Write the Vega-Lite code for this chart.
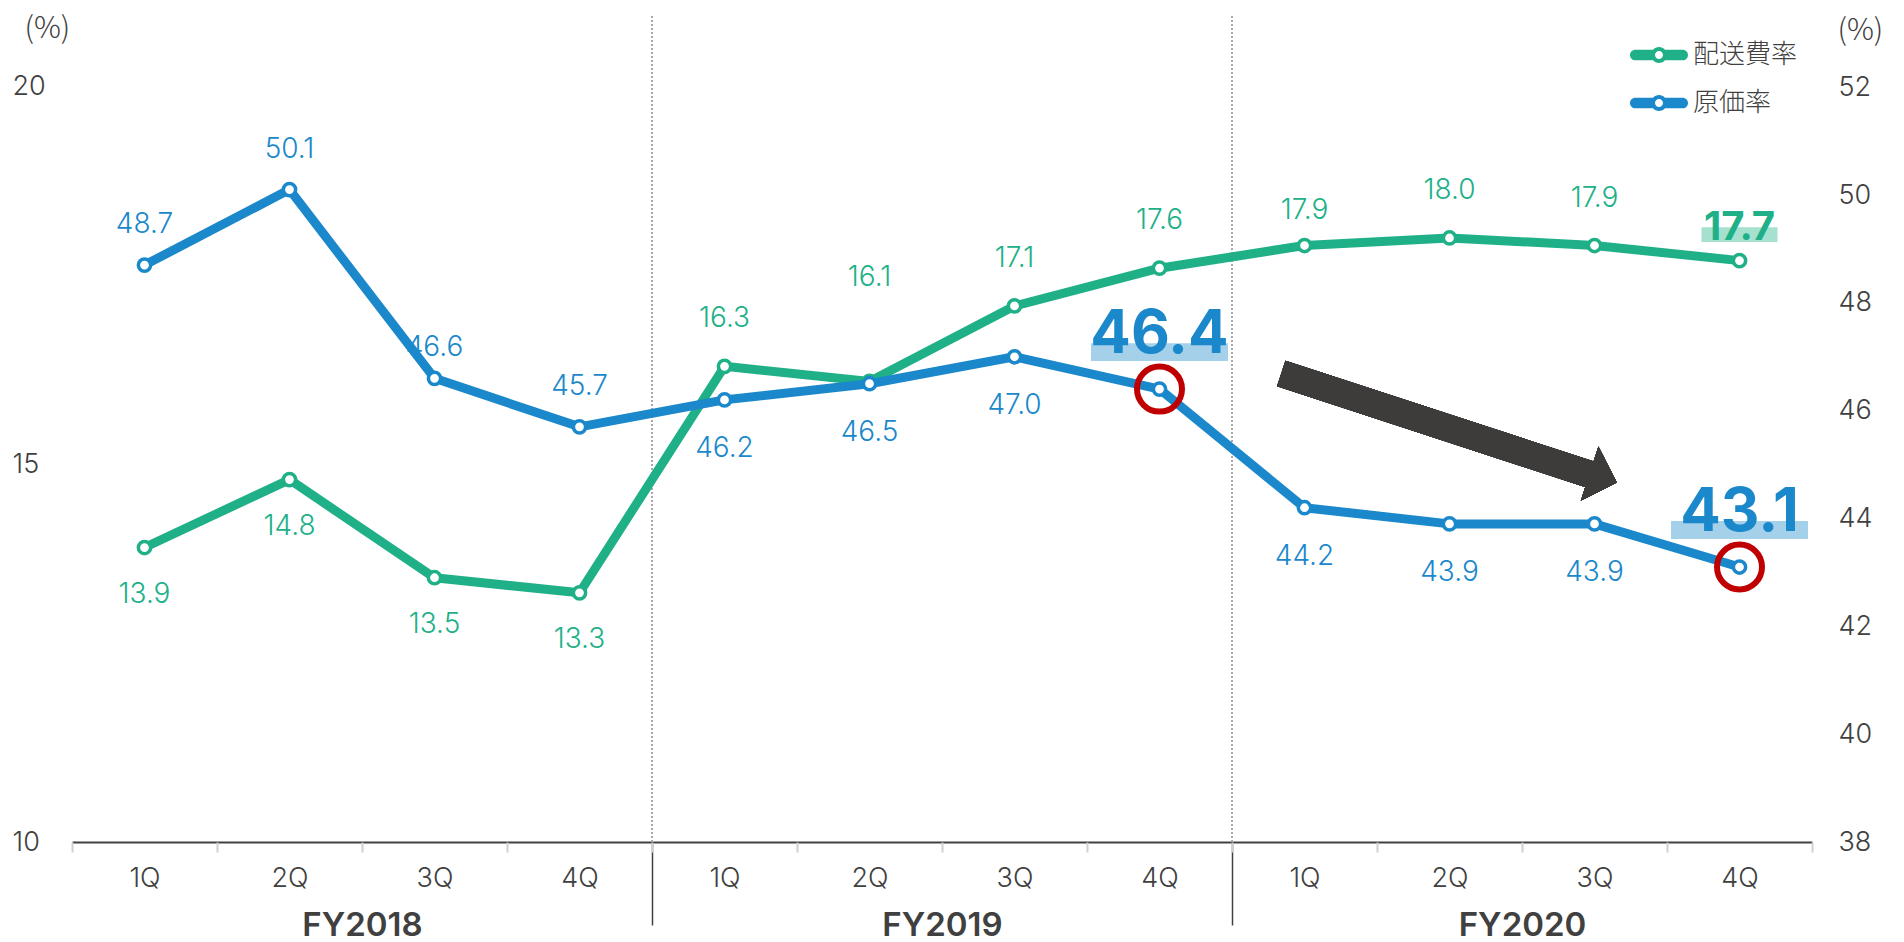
{
  "$schema": "https://vega.github.io/schema/vega-lite/v6.json",
  "width": 1740,
  "height": 826,
  "autosize": {"type": "none"},
  "padding": {"left": 72, "top": 16, "right": 92, "bottom": 100},
  "background": "white",
  "config": {
    "view": {"stroke": null},
    "font": "Inter",
    "axis": {"grid": false, "labelFlush": false}
  },
  "datasets": {
    "rates": [
      {"year": "FY2018", "q": "1Q", "idx": 0, "delivery": 13.9, "cost": 48.7},
      {"year": "FY2018", "q": "2Q", "idx": 1, "delivery": 14.8, "cost": 50.1},
      {"year": "FY2018", "q": "3Q", "idx": 2, "delivery": 13.5, "cost": 46.6},
      {"year": "FY2018", "q": "4Q", "idx": 3, "delivery": 13.3, "cost": 45.7},
      {"year": "FY2019", "q": "1Q", "idx": 4, "delivery": 16.3, "cost": 46.2},
      {"year": "FY2019", "q": "2Q", "idx": 5, "delivery": 16.1, "cost": 46.5},
      {"year": "FY2019", "q": "3Q", "idx": 6, "delivery": 17.1, "cost": 47.0},
      {"year": "FY2019", "q": "4Q", "idx": 7, "delivery": 17.6, "cost": 46.4},
      {"year": "FY2020", "q": "1Q", "idx": 8, "delivery": 17.9, "cost": 44.2},
      {"year": "FY2020", "q": "2Q", "idx": 9, "delivery": 18.0, "cost": 43.9},
      {"year": "FY2020", "q": "3Q", "idx": 10, "delivery": 17.9, "cost": 43.9},
      {"year": "FY2020", "q": "4Q", "idx": 11, "delivery": 17.7, "cost": 43.1}
    ]
  },
  "data": {"name": "rates"},
  "resolve": {"scale": {"y": "independent"}, "axis": {"x": "independent"}},
  "layer": [
    {
      "mark": {"type": "rule", "color": "#a8a8a8", "strokeWidth": 1.5, "strokeDash": [2, 2]},
      "encoding": {
        "x": {
          "datum": 3.5, "type": "quantitative",
          "scale": {"domain": [-0.5, 11.5], "nice": false, "zero": false},
          "axis": {
            "orient": "bottom", "title": null,
            "values": [1.5, 3.5, 5.5, 7.5, 9.5],
            "domain": false, "ticks": true, "tickSize": 83, "tickWidth": 1.5,
            "tickColor": {"condition": {"test": "datum.value === 3.5 || datum.value === 7.5", "value": "#404040"}, "value": "transparent"},
            "labelExpr": "datum.value === 1.5 ? 'FY2018' : datum.value === 5.5 ? 'FY2019' : datum.value === 9.5 ? 'FY2020' : ''",
            "labelPadding": 0, "labelBaseline": "middle", "labelFontSize": 33, "labelFontWeight": 600,
            "labelColor": "#404040", "labelFont": "Inter"
          }
        }
      }
    },
    {
      "mark": {"type": "rule", "color": "#a8a8a8", "strokeWidth": 1.5, "strokeDash": [2, 2]},
      "encoding": {
        "x": {"datum": 7.5, "type": "quantitative", "axis": null}
      }
    },
    {
      "mark": {"type": "rule", "color": "#3d3c3b", "strokeWidth": 27, "strokeCap": "butt"},
      "encoding": {
        "x": {"datum": 7.84, "type": "quantitative", "axis": null},
        "x2": {"datum": 10.0},
        "y": {"datum": 46.69, "type": "quantitative", "scale": {"domain": [38, 53.32], "nice": false, "zero": false}, "axis": null},
        "y2": {"datum": 44.79}
      }
    },
    {
      "mark": {"type": "point", "filled": true, "color": "#3d3c3b", "opacity": 1, "shape": "M -0.5 -1 L 0.5 0 L -0.5 1 Z", "size": 3249, "angle": 18, "strokeWidth": 0},
      "encoding": {
        "x": {"datum": 10.06, "type": "quantitative", "axis": null},
        "y": {"datum": 44.75, "type": "quantitative", "scale": {"domain": [38, 53.32], "nice": false, "zero": false}, "axis": null}
      }
    },
    {
      "mark": {"type": "line", "strokeWidth": 9, "strokeJoin": "round", "color": "#20b088"},
      "encoding": {
        "x": {
          "field": "idx", "type": "quantitative",
          "axis": {
            "orient": "bottom", "title": null,
            "values": [0, 1, 2, 3, 4, 5, 6, 7, 8, 9, 10, 11],
            "labelExpr": "['1Q','2Q','3Q','4Q'][datum.value % 4]",
            "ticks": false, "domain": true, "domainColor": "#404040", "domainWidth": 2,
            "labelPadding": 36, "labelBaseline": "middle", "labelFontSize": 27, "labelFontWeight": 300,
            "labelColor": "#404040", "labelFont": "Inter"
          }
        },
        "y": {
          "field": "delivery", "type": "quantitative",
          "scale": {"domain": [10, 20.94], "nice": false, "zero": false},
          "axis": {
            "orient": "left", "values": [10, 15, 20], "ticks": false, "domain": false,
            "labelAlign": "left", "labelPadding": 60, "labelFontSize": 27, "labelFontWeight": 300, "labelColor": "#404040",
            "labelFont": "Inter", "labelBaseline": "middle",
            "title": "(%)", "titleAngle": 0, "titleX": -48, "titleY": 12, "titleAlign": "left",
            "titleBaseline": "middle", "titleFontSize": 30, "titleFontWeight": 300,
            "titleColor": "#404040", "titleFont": "Noto Sans CJK JP"
          }
        },
        "color": {
          "datum": "配送費率", "type": "nominal",
          "scale": {"domain": ["配送費率", "原価率"], "range": ["#20b088", "#1a88cb"]},
          "legend": {
            "orient": "none", "legendX": 1558, "legendY": 10, "title": null, "padding": 0,
            "symbolType": "M -0.816 -0.184 L -0.206 -0.184 A 0.276 0.276 0 0 1 0.206 -0.184 L 0.816 -0.184 A 0.184 0.184 0 0 1 0.816 0.184 L 0.206 0.184 A 0.276 0.276 0 0 1 -0.206 0.184 L -0.816 0.184 A 0.184 0.184 0 0 1 -0.816 -0.184 Z M 0.138 0 A 0.138 0.138 0 1 0 -0.138 0 A 0.138 0.138 0 1 0 0.138 0 Z",
            "symbolSize": 3364, "symbolStrokeWidth": 0,
            "labelFont": "Noto Sans CJK JP", "labelFontSize": 26, "labelFontWeight": 300, "labelColor": "#404040",
            "labelOffset": 5, "rowPadding": 6,
            "encode": {"symbols": {"update": {"fill": {"scale": "color", "field": "value"}, "stroke": {"value": "transparent"}, "opacity": {"value": 1}}}}
          }
        }
      }
    },
    {
      "mark": {"type": "point", "filled": true, "fill": "white", "stroke": "#20b088", "strokeWidth": 3.5, "size": 150, "opacity": 1},
      "encoding": {
        "x": {"field": "idx", "type": "quantitative", "axis": null},
        "y": {"field": "delivery", "type": "quantitative", "scale": {"domain": [10, 20.94], "nice": false, "zero": false}, "axis": null}
      }
    },
    {
      "transform": [{"filter": "datum.year === 'FY2018'"}],
      "mark": {"type": "text", "color": "#20b088", "fontSize": 28, "fontWeight": 300, "baseline": "middle", "dy": 47},
      "encoding": {
        "x": {"field": "idx", "type": "quantitative", "axis": null},
        "y": {"field": "delivery", "type": "quantitative", "scale": {"domain": [10, 20.94], "nice": false, "zero": false}, "axis": null},
        "text": {"field": "delivery", "type": "quantitative", "format": ".1f"}
      }
    },
    {
      "transform": [{"filter": "datum.year !== 'FY2018' && !(datum.year === 'FY2019' && datum.q === '2Q') && !(datum.year === 'FY2020' && (datum.q === '4Q' || datum.q === '1Q'))"}],
      "mark": {"type": "text", "color": "#20b088", "fontSize": 28, "fontWeight": 300, "baseline": "middle", "dy": -47},
      "encoding": {
        "x": {"field": "idx", "type": "quantitative", "axis": null},
        "y": {"field": "delivery", "type": "quantitative", "scale": {"domain": [10, 20.94], "nice": false, "zero": false}, "axis": null},
        "text": {"field": "delivery", "type": "quantitative", "format": ".1f"}
      }
    },
    {
      "transform": [{"filter": "datum.year === 'FY2020' && datum.q === '1Q'"}],
      "mark": {"type": "text", "color": "#20b088", "fontSize": 28, "fontWeight": 300, "baseline": "middle", "dy": -35},
      "encoding": {
        "x": {"field": "idx", "type": "quantitative", "axis": null},
        "y": {"field": "delivery", "type": "quantitative", "scale": {"domain": [10, 20.94], "nice": false, "zero": false}, "axis": null},
        "text": {"field": "delivery", "type": "quantitative", "format": ".1f"}
      }
    },
    {
      "transform": [{"filter": "datum.year === 'FY2019' && datum.q === '2Q'"}],
      "mark": {"type": "text", "color": "#20b088", "fontSize": 28, "fontWeight": 300, "baseline": "middle", "dy": -103},
      "encoding": {
        "x": {"field": "idx", "type": "quantitative", "axis": null},
        "y": {"field": "delivery", "type": "quantitative", "scale": {"domain": [10, 20.94], "nice": false, "zero": false}, "axis": null},
        "text": {"field": "delivery", "type": "quantitative", "format": ".1f"}
      }
    },
    {
      "transform": [{"filter": "datum.year === 'FY2020' && datum.q === '4Q'"}],
      "mark": {"type": "point", "filled": true, "fill": "#a6e0cf", "opacity": 1, "strokeWidth": 0, "shape": "M -1 -0.197 L 1 -0.197 L 1 0.197 L -1 0.197 Z", "size": 5776, "yOffset": -26},
      "encoding": {
        "x": {"field": "idx", "type": "quantitative", "axis": null},
        "y": {"field": "delivery", "type": "quantitative", "scale": {"domain": [10, 20.94], "nice": false, "zero": false}, "axis": null}
      }
    },
    {
      "transform": [{"filter": "datum.year === 'FY2020' && datum.q === '4Q'"}],
      "mark": {"type": "text", "color": "#20b088", "fontSize": 40, "fontWeight": "bold", "baseline": "alphabetic", "dy": -21},
      "encoding": {
        "x": {"field": "idx", "type": "quantitative", "axis": null},
        "y": {"field": "delivery", "type": "quantitative", "scale": {"domain": [10, 20.94], "nice": false, "zero": false}, "axis": null},
        "text": {"field": "delivery", "type": "quantitative", "format": ".1f"}
      }
    },
    {
      "mark": {"type": "line", "strokeWidth": 9, "strokeJoin": "round", "color": "#1a88cb"},
      "encoding": {
        "x": {
          "field": "idx", "type": "quantitative",
          "axis": {
            "orient": "bottom", "title": null,
            "values": [-0.5, 0.5, 1.5, 2.5, 3.5, 4.5, 5.5, 6.5, 7.5, 8.5, 9.5, 10.5, 11.5],
            "labels": false, "domain": false, "ticks": true, "tickSize": 10, "tickWidth": 2, "tickColor": "#d0d0d0"
          }
        },
        "y": {
          "field": "cost", "type": "quantitative",
          "scale": {"domain": [38, 53.32], "nice": false, "zero": false},
          "axis": {
            "orient": "right", "values": [38, 40, 42, 44, 46, 48, 50, 52], "ticks": false, "domain": false,
            "labelAlign": "left", "labelPadding": 26, "labelFontSize": 27, "labelFontWeight": 300, "labelColor": "#404040",
            "labelFont": "Inter", "labelBaseline": "middle",
            "title": "(%)", "titleAngle": 0, "titleX": 25, "titleY": 14, "titleAlign": "left",
            "titleBaseline": "middle", "titleFontSize": 30, "titleFontWeight": 300,
            "titleColor": "#404040", "titleFont": "Noto Sans CJK JP"
          }
        },
        "color": {"datum": "原価率", "type": "nominal"}
      }
    },
    {
      "transform": [{"filter": "datum.q === '4Q' && datum.year !== 'FY2018'"}],
      "mark": {"type": "point", "filled": false, "stroke": "#c00000", "strokeWidth": 6, "size": 2025, "opacity": 1},
      "encoding": {
        "x": {"field": "idx", "type": "quantitative", "axis": null},
        "y": {"field": "cost", "type": "quantitative", "scale": {"domain": [38, 53.32], "nice": false, "zero": false}, "axis": null}
      }
    },
    {
      "mark": {"type": "point", "filled": true, "fill": "white", "stroke": "#1a88cb", "strokeWidth": 3.5, "size": 150, "opacity": 1},
      "encoding": {
        "x": {"field": "idx", "type": "quantitative", "axis": null},
        "y": {"field": "cost", "type": "quantitative", "scale": {"domain": [38, 53.32], "nice": false, "zero": false}, "axis": null}
      }
    },
    {
      "transform": [{"filter": "datum.year === 'FY2018' && datum.q !== '3Q'"}],
      "mark": {"type": "text", "color": "#1a88cb", "fontSize": 28, "fontWeight": 300, "baseline": "middle", "dy": -40},
      "encoding": {
        "x": {"field": "idx", "type": "quantitative", "axis": null},
        "y": {"field": "cost", "type": "quantitative", "scale": {"domain": [38, 53.32], "nice": false, "zero": false}, "axis": null},
        "text": {"field": "cost", "type": "quantitative", "format": ".1f"}
      }
    },
    {
      "transform": [{"filter": "datum.year === 'FY2018' && datum.q === '3Q'"}],
      "mark": {"type": "text", "color": "#1a88cb", "fontSize": 28, "fontWeight": 300, "baseline": "middle", "dy": -30},
      "encoding": {
        "x": {"field": "idx", "type": "quantitative", "axis": null},
        "y": {"field": "cost", "type": "quantitative", "scale": {"domain": [38, 53.32], "nice": false, "zero": false}, "axis": null},
        "text": {"field": "cost", "type": "quantitative", "format": ".1f"}
      }
    },
    {
      "transform": [{"filter": "datum.year !== 'FY2018' && datum.q !== '4Q'"}],
      "mark": {"type": "text", "color": "#1a88cb", "fontSize": 28, "fontWeight": 300, "baseline": "middle", "dy": 49},
      "encoding": {
        "x": {"field": "idx", "type": "quantitative", "axis": null},
        "y": {"field": "cost", "type": "quantitative", "scale": {"domain": [38, 53.32], "nice": false, "zero": false}, "axis": null},
        "text": {"field": "cost", "type": "quantitative", "format": ".1f"}
      }
    },
    {
      "transform": [{"filter": "datum.year !== 'FY2018' && datum.q === '4Q'"}],
      "mark": {"type": "point", "filled": true, "fill": "#a4d0ea", "opacity": 1, "strokeWidth": 0, "shape": "M -1 -0.131 L 1 -0.131 L 1 0.131 L -1 0.131 Z", "size": 18769, "yOffset": -37},
      "encoding": {
        "x": {"field": "idx", "type": "quantitative", "axis": null},
        "y": {"field": "cost", "type": "quantitative", "scale": {"domain": [38, 53.32], "nice": false, "zero": false}, "axis": null}
      }
    },
    {
      "transform": [{"filter": "datum.year !== 'FY2018' && datum.q === '4Q'"}],
      "mark": {"type": "text", "color": "#1a88cb", "fontSize": 60, "fontWeight": "bold", "baseline": "alphabetic", "dy": -36},
      "encoding": {
        "x": {"field": "idx", "type": "quantitative", "axis": null},
        "y": {"field": "cost", "type": "quantitative", "scale": {"domain": [38, 53.32], "nice": false, "zero": false}, "axis": null},
        "text": {"field": "cost", "type": "quantitative", "format": ".1f"}
      }
    }
  ]
}
